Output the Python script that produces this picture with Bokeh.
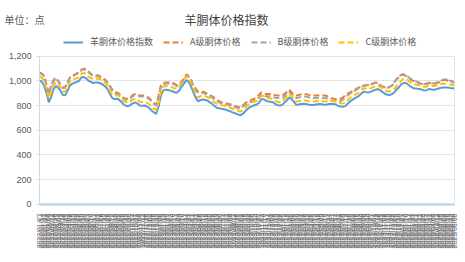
import math
import pandas as pd
from bokeh.plotting import figure
from bokeh.models import (Legend, LegendItem, FixedTicker, NumeralTickFormatter,
                          Label, Range1d, LinearAxis)
from bokeh.embed import file_html
from bokeh.resources import INLINE

dates = [d.strftime("%Y/%m/%d") for d in pd.date_range("2022-01-07", periods=179, freq="7D")]

index_vals = [
    1000, 992, 960, 900, 826, 870, 930, 958, 945, 920,
    885, 882, 918, 960, 975, 984, 990, 1000, 1028, 1030,
    1020, 1000, 990, 982, 985, 986, 980, 972, 955, 938,
    900, 865, 852, 855, 848, 830, 810, 798, 794, 805,
    818, 825, 815, 800, 798, 800, 792, 780, 760, 745,
    733, 790, 880, 922, 928, 925, 920, 915, 906, 905,
    925, 955, 980, 1005, 990, 950, 905, 860, 832, 845,
    848, 845, 838, 825, 813, 795, 782, 778, 773, 770,
    765, 758, 750, 742, 735, 728, 720, 732, 750, 770,
    785, 795, 802, 808, 820, 850, 850, 840, 832, 830,
    826, 812, 803, 800, 805, 825, 842, 866, 850, 830,
    806, 808, 812, 814, 813, 808, 805, 805, 806, 810,
    813, 810, 805, 808, 813, 814, 813, 808, 796, 792,
    790, 795, 815, 832, 845, 858, 868, 880, 900, 912,
    908, 906, 912, 920, 928, 933, 922, 908, 895, 886,
    885, 892, 905, 930, 948, 970, 982, 982, 968, 952,
    942, 938, 935, 933, 926, 920, 926, 933, 930, 928,
    932, 938, 944, 946, 946, 945, 942, 940, 938,
]

grade_a = [
    1068, 1060, 1040, 970, 893, 960, 1005, 1026, 1000, 973,
    946, 950, 990, 1026, 1040, 1050, 1060, 1072, 1090, 1098,
    1092, 1075, 1055, 1042, 1040, 1045, 1035, 1026, 1010, 990,
    965, 935, 912, 905, 898, 880, 862, 853, 860, 866,
    885, 893, 890, 880, 880, 880, 872, 860, 840, 820,
    805, 880, 960, 980, 986, 986, 986, 984, 975, 962,
    975, 995, 1020, 1053, 1035, 1005, 960, 935, 912, 912,
    912, 905, 893, 885, 874, 860, 845, 835, 826, 822,
    818, 813, 808, 800, 795, 788, 786, 800, 815, 830,
    840, 848, 853, 870, 885, 906, 900, 893, 893, 893,
    890, 882, 880, 880, 880, 895, 910, 928, 905, 885,
    880, 885, 890, 893, 893, 888, 882, 880, 880, 880,
    880, 880, 880, 878, 870, 862, 855, 850, 850, 855,
    866, 880, 895, 905, 915, 925, 938, 946, 955, 962,
    965, 968, 973, 980, 986, 980, 965, 955, 946, 945,
    950, 960, 985, 1010, 1030, 1045, 1048, 1040, 1025, 1010,
    1000, 992, 985, 978, 973, 968, 975, 981, 978, 973,
    980, 986, 995, 1005, 1008, 1000, 995, 990, 982,
]

grade_b = [
    1062, 1055, 1032, 962, 885, 952, 998, 1020, 994, 966,
    940, 944, 984, 1020, 1034, 1044, 1054, 1066, 1084, 1092,
    1086, 1068, 1050, 1036, 1034, 1038, 1028, 1020, 1004, 984,
    958, 926, 904, 897, 890, 872, 854, 845, 852, 858,
    876, 884, 882, 872, 872, 872, 864, 852, 832, 812,
    797, 870, 950, 972, 978, 978, 978, 976, 967, 954,
    967, 987, 1012, 1045, 1027, 997, 950, 925, 902, 902,
    902, 895, 883, 875, 864, 850, 835, 825, 816, 812,
    808, 803, 798, 790, 785, 778, 776, 790, 805, 818,
    826, 832, 836, 852, 866, 888, 882, 874, 874, 873,
    870, 862, 860, 860, 860, 875, 892, 910, 886, 866,
    860, 864, 870, 873, 873, 868, 862, 860, 860, 860,
    860, 860, 860, 858, 850, 842, 836, 832, 832, 836,
    848, 864, 882, 895, 906, 918, 932, 942, 952, 960,
    962, 965, 970, 978, 984, 978, 962, 952, 944, 944,
    950, 962, 988, 1015, 1035, 1050, 1054, 1046, 1030, 1015,
    1005, 997, 990, 983, 978, 973, 980, 986, 983, 978,
    985, 992, 1000, 1010, 1013, 1005, 1000, 995, 990,
]

grade_c = [
    1035, 1025, 995, 935, 858, 902, 962, 990, 976, 950,
    915, 912, 948, 992, 1006, 1015, 1020, 1030, 1058, 1064,
    1054, 1032, 1022, 1014, 1016, 1018, 1012, 1004, 986, 968,
    930, 895, 882, 885, 878, 860, 840, 828, 824, 835,
    848, 856, 846, 830, 828, 830, 822, 810, 790, 775,
    764, 820, 910, 952, 958, 956, 951, 946, 937, 935,
    955, 985, 1010, 1036, 1020, 980, 936, 892, 864, 876,
    878, 875, 868, 855, 843, 825, 812, 808, 803, 800,
    795, 788, 780, 772, 765, 758, 750, 762, 780, 800,
    815, 825, 830, 836, 848, 878, 876, 866, 858, 856,
    852, 838, 830, 827, 832, 852, 868, 892, 876, 856,
    832, 834, 838, 840, 840, 834, 832, 832, 833, 837,
    840, 837, 832, 835, 840, 841, 840, 835, 823, 819,
    817, 822, 843, 860, 873, 886, 896, 908, 928, 940,
    936, 934, 940, 948, 956, 961, 950, 936, 923, 914,
    913, 920, 933, 958, 978, 1002, 1016, 1016, 1000, 984,
    974, 970, 966, 963, 956, 950, 956, 962, 960, 957,
    962, 968, 974, 976, 976, 974, 970, 966, 962,
]

series_names = ["羊胴体价格指数", "A级胴体价格", "B级胴体价格", "C级胴体价格"]
y_ticks = [0, 200, 400, 600, 800, 1000, 1200]

x = list(range(len(dates)))
last = len(dates) - 1
FONT = "Noto Sans CJK SC"

p = figure(width=465, height=262, output_backend="svg", toolbar_location=None,
           x_range=Range1d(-16.7, last + 4.5), y_range=Range1d(-468.7, 1648.5),
           min_border_left=0, min_border_right=0, min_border_top=0,
           min_border_bottom=0)
p.title.visible = False

r0 = p.line(x, index_vals, color="#5b9bd5", line_width=2)
r1 = p.line(x, grade_a, color="#ed7d31", line_width=2, line_dash="6 3")
r2 = p.line(x, grade_b, color="#a5a5a5", line_width=2, line_dash="6 3")
r3 = p.line(x, grade_c, color="#ffc000", line_width=2, line_dash="6 3")

legend = Legend(items=[LegendItem(label=n, renderers=[r]) for n, r in
                       zip(series_names, [r0, r1, r2, r3])],
                orientation="horizontal", location=(63, 214),
                border_line_color=None, background_fill_alpha=0,
                label_text_font=FONT, label_text_font_size="9px",
                label_text_color="#595959", glyph_width=20, glyph_height=8,
                label_height=10, spacing=10, padding=0, margin=0,
                label_standoff=7)
p.add_layout(legend)

p.add_layout(Label(x=226, y=243, x_units="screen", y_units="screen",
                   text="羊胴体价格指数", text_font=FONT, text_font_size="12px",
                   text_color="#404040", text_align="center",
                   text_baseline="middle"))
p.add_layout(Label(x=4, y=243, x_units="screen", y_units="screen",
                   text="单位：点", text_font=FONT, text_font_size="10px",
                   text_color="#595959", text_baseline="middle"))

p.xgrid.visible = False
p.ygrid.grid_line_color = "#e4e4e4"
p.ygrid.ticker = FixedTicker(ticks=y_ticks)
p.ygrid.bounds = (0, 1200)
p.ygrid.cross_bounds = (0, last)
p.outline_line_color = None

yax = p.yaxis[0]
yax.fixed_location = 0
yax.ticker = FixedTicker(ticks=y_ticks)
yax.bounds = (0, 1200)
yax.formatter = NumeralTickFormatter(format="0,0")
yax.major_label_text_font_size = "9px"
yax.major_label_text_color = "#595959"
yax.axis_line_color = "#d0d8e4"
yax.major_tick_line_color = "#d9d9d9"
yax.major_tick_out = 3
yax.major_tick_in = 0
yax.minor_tick_line_color = None

right_axis = LinearAxis(bounds=(0, 1200), fixed_location=last,
                        ticker=FixedTicker(ticks=[]),
                        axis_line_color="#dce6f2", major_tick_line_color=None,
                        minor_tick_line_color=None)
p.add_layout(right_axis, "right")

xax = p.xaxis[0]
xax.fixed_location = 0
xax.ticker = FixedTicker(ticks=x)
xax.bounds = (0, last)
xax.major_label_overrides = {i: d for i, d in enumerate(dates)}
xax.major_label_orientation = math.pi / 2
xax.major_label_text_font_size = "7px"
xax.major_label_text_color = "#666666"
xax.axis_line_color = "#bdd7ee"
xax.axis_line_width = 2.5
xax.major_tick_line_color = None
xax.minor_tick_line_color = None
xax.major_label_standoff = 3

open("out.html", "w").write(file_html(p, INLINE))
